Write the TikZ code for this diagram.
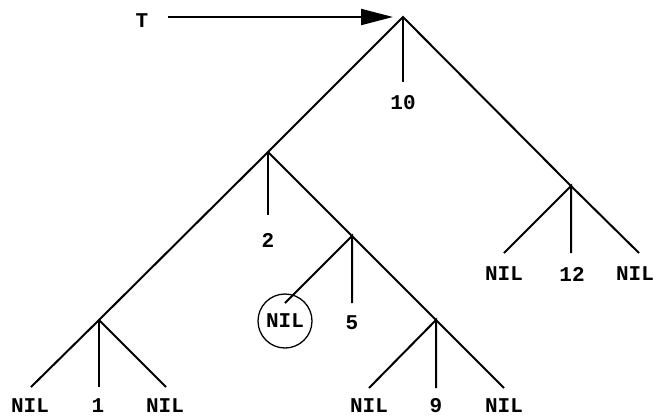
\documentclass[tikz,border=0pt]{standalone}
\usepackage{fontspec}
\newfontfamily\treefont{Liberation Mono}
\usetikzlibrary{arrows.meta}
\begin{document}
\begin{tikzpicture}[x=1pt,y=-1pt,line width=2pt,
  lbl/.style={font=\fontsize{21}{25}\selectfont\treefont\bfseries,inner sep=0pt},
  nilc/.style={lbl,draw,circle,line width=1.3pt,minimum size=54pt}]
\useasboundingbox (0,0) rectangle (653,416);
% vertices
\coordinate (r) at (403,17);
\coordinate (n2) at (268,152);
\coordinate (n1) at (99,320);
\coordinate (n5) at (352,236);
\coordinate (n9) at (436,320);
\coordinate (n12) at (571,186);
% free ends
\coordinate (e10) at (403,82);
\coordinate (e2) at (268,215);
\coordinate (e5) at (352,303);
\coordinate (c5) at (285,303);
\coordinate (e1l) at (31,387);
\coordinate (e1) at (99,387);
\coordinate (e1r) at (166,387);
\coordinate (e9l) at (369,388);
\coordinate (e9) at (436,388);
\coordinate (e9r) at (504,388);
\coordinate (e12l) at (504,253);
\coordinate (e12) at (571,253);
\coordinate (e12r) at (639,253);
\coordinate (as) at (168,17);
% labels
\node[lbl] (T) at (142,21) {T};
\node[lbl] (l10) at (403,103) {10};
\node[lbl] (l2) at (268,240) {2};
\node[lbl] (l5) at (352,323) {5};
\node[nilc] (cnil) at (285,321) {NIL};
\node[lbl] (l1l) at (30,406) {NIL};
\node[lbl] (l1) at (98,406) {1};
\node[lbl] (l1r) at (165,406) {NIL};
\node[lbl] (l9l) at (369,406) {NIL};
\node[lbl] (l9) at (436,406) {9};
\node[lbl] (l9r) at (504,406) {NIL};
\node[lbl] (l12l) at (504,274) {NIL};
\node[lbl] (l12) at (572,274) {12};
\node[lbl] (l12r) at (635,274) {NIL};
% connectors
\draw[-{Triangle[length=32pt,width=16pt]},shorten >=10pt] (as) -- (r);
\draw (n1) -- (n2) -- (r) -- (n12) -- (e12r);
\draw (r) -- (e10);
\draw (n2) -- (n5) -- (n9) -- (e9r);
\draw (n2) -- (e2);
\draw (c5) -- (n5) -- (e5);
\draw (e1l) -- (n1) -- (e1r);
\draw (n1) -- (e1);
\draw (e9l) -- (n9) -- (e9);
\draw (e12l) -- (n12) -- (e12);
\end{tikzpicture}
\end{document}
